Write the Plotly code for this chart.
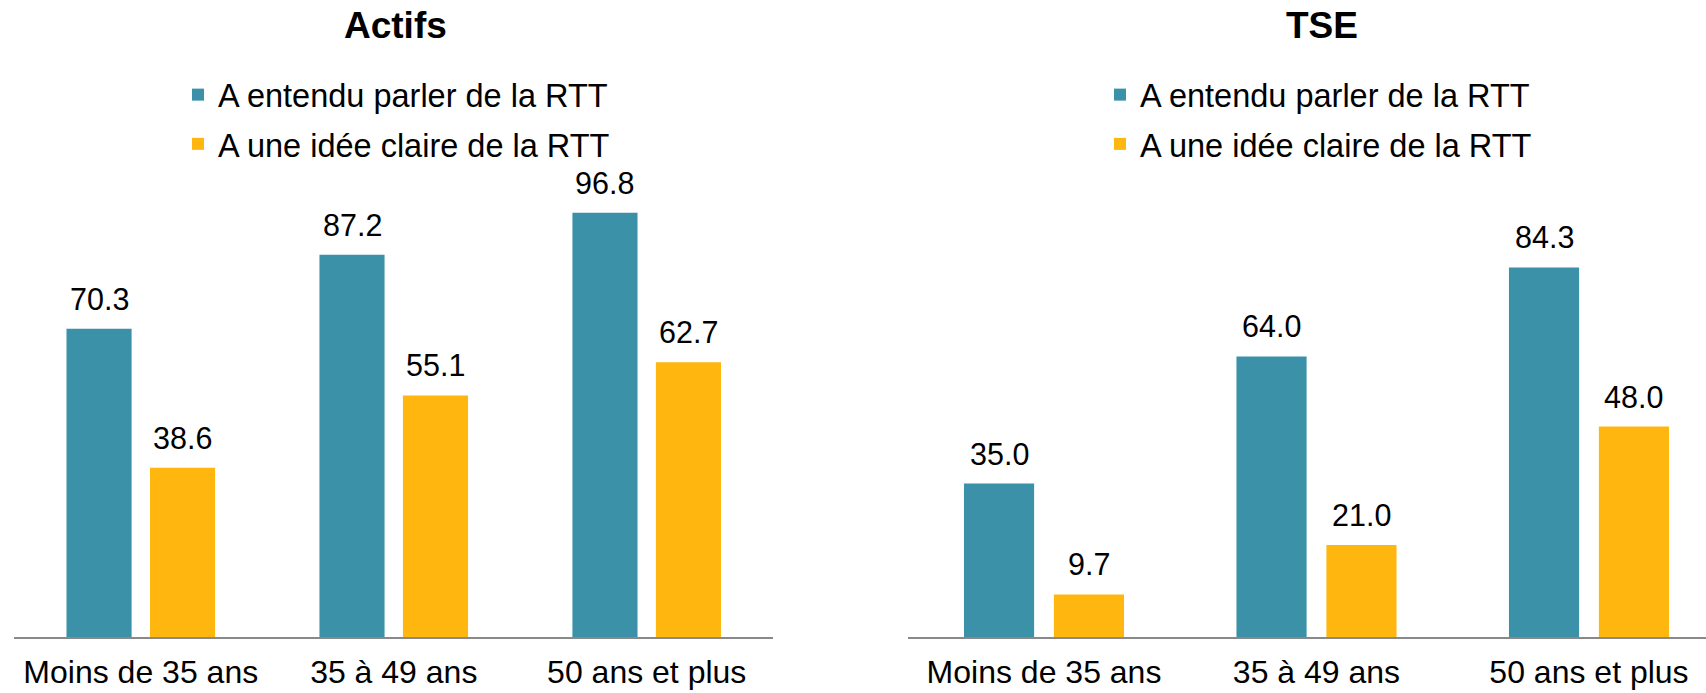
import plotly.graph_objects as go

categories = ["Moins de 35 ans", "35 à 49 ans", "50 ans et plus"]
series_names = ["A entendu parler de la RTT", "A une idée claire de la RTT"]
actifs_entendu = [70.3, 87.2, 96.8]
actifs_idee = [38.6, 55.1, 62.7]
tse_entendu = [35.0, 64.0, 84.3]
tse_idee = [9.7, 21.0, 48.0]
panel_titles = ["Actifs", "TSE"]

BLUE = "#3A91A8"
ORANGE = "#FFB70F"
FONT = "Liberation Sans, Arial, sans-serif"
BARGAP = 0.34
BARGROUPGAP = 0.22

W, H = 1706, 693
T, B = 111, 56
PH = H - T - B

fig = go.Figure()

panels = [
    ("x", "y", "legend", actifs_entendu, actifs_idee),
    ("x2", "y2", "legend2", tse_entendu, tse_idee),
]
for pi, (xa, ya, lg, v1, v2) in enumerate(panels):
    for si, (vals, col) in enumerate([(v1, BLUE), (v2, ORANGE)]):
        fig.add_trace(go.Bar(
            x=categories, y=vals, name=series_names[si],
            marker=dict(color=col, line=dict(width=0)),
            xaxis=xa, yaxis=ya, legend=lg,
            legendgroup=f"{pi}-{si}", showlegend=True,
            hoverinfo="skip",
        ))
        slot = (1 - BARGAP) / 2
        off = (si - 0.5) * slot
        for ci, v in enumerate(vals):
            fig.add_annotation(
                x=ci + off, y=v, xref=xa, yref=ya,
                text=f"{v:.1f}", showarrow=False,
                yanchor="bottom", xanchor="center", yshift=11,
                font=dict(family=FONT, size=30.5, color="black"),
            )

axis_common = dict(
    showgrid=False, zeroline=False, ticks="",
    showline=True, linecolor="#898989", linewidth=2,
    tickfont=dict(family=FONT, size=32, color="black"),
    type="category", fixedrange=True, automargin=False,
    ticklabelstandoff=6,
)
yaxis_common = dict(showgrid=False, zeroline=False, showticklabels=False,
                    showline=False, range=[0, 120], fixedrange=True, automargin=False)

legend_common = dict(
    xanchor="left", yanchor="top",
    font=dict(family=FONT, size=32.5, color="black"),
    bgcolor="rgba(0,0,0,0)", tracegroupgap=4, itemwidth=30,
    traceorder="grouped",
)

fig.update_layout(
    width=W, height=H,
    margin=dict(l=0, r=0, t=T, b=B, pad=0, autoexpand=False),
    paper_bgcolor="white", plot_bgcolor="white",
    barmode="group", bargap=BARGAP, bargroupgap=BARGROUPGAP,
    xaxis=dict(domain=[14.3 / W, 773.2 / W], range=[-0.5, 2.5], anchor="y", **axis_common),
    xaxis2=dict(domain=[907.75 / W, 1.0], range=[-0.5, 2.4294], anchor="y2", **axis_common),
    yaxis=dict(anchor="x", **yaxis_common),
    yaxis2=dict(anchor="x2", **yaxis_common),
    legend=dict(x=178 / W, y=1 + (T - 67) / PH, **legend_common),
    legend2=dict(x=1100 / W, y=1 + (T - 67) / PH, **legend_common),
    showlegend=True,
)

for t, xc in zip(panel_titles, [395.8, 1322]):
    fig.add_annotation(
        x=xc / W, y=1, xref="paper", yref="paper", xanchor="center",
        yanchor="middle", yshift=86,
        text=f"<b>{t}</b>", showarrow=False,
        font=dict(family=FONT, size=37, color="black"),
    )

fig.write_html(
    "out.html",
    config={"displayModeBar": False},
    post_script="document.body.style.margin='0';document.body.style.overflow='hidden';",
)
